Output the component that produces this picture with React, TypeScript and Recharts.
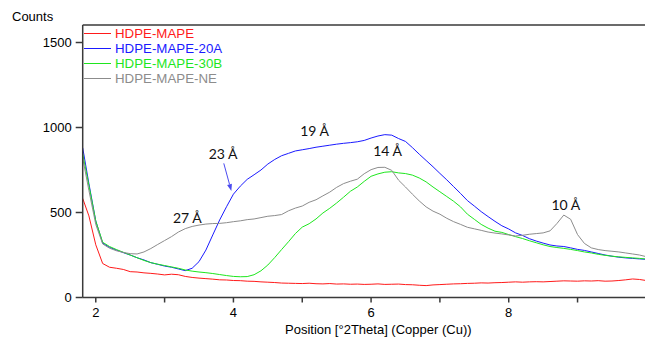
import { LineChart, Line, XAxis, YAxis, ReferenceLine, ReferenceDot } from "recharts";

// 2Theta positions shared by all four scans
const twoTheta = [
  1.81,
  1.9, 2.0, 2.1, 2.2, 2.3, 2.4, 2.5, 2.6, 2.7, 2.8, 2.9,
  3.0, 3.1, 3.2, 3.3, 3.4, 3.5, 3.6, 3.7, 3.8, 3.9,
  4.0, 4.1, 4.2, 4.3, 4.4, 4.5, 4.6, 4.7, 4.8, 4.9,
  5.0, 5.1, 5.2, 5.3, 5.4, 5.5, 5.6, 5.7, 5.8, 5.9,
  6.0, 6.1, 6.2, 6.3, 6.4, 6.5, 6.6, 6.7, 6.8, 6.9,
  7.0, 7.1, 7.2, 7.3, 7.4, 7.5, 7.6, 7.7, 7.8, 7.9,
  8.0, 8.1, 8.2, 8.3, 8.4, 8.5, 8.6, 8.7, 8.8, 8.9,
  9.0, 9.1, 9.2, 9.3, 9.4, 9.5, 9.6, 9.7, 9.8, 9.9,
  9.98,
];

const hdpeMape = [
  583,
  480, 310, 200, 178, 172, 165, 152, 150, 145, 142, 138,
  133, 137, 134, 124, 118, 114, 111, 108, 104, 103,
  100, 99, 96, 95, 92, 90, 88, 85, 84, 83,
  82, 84, 81, 80, 82, 79, 80, 78, 79, 77,
  78, 80, 77, 78, 79, 76, 75, 72, 70, 74,
  76, 78, 80, 81, 83, 84, 86, 85, 87, 88,
  90, 92, 90, 92, 93, 92, 94, 96, 98, 97,
  96, 98, 97, 99, 96, 97, 100, 104, 109, 106,
  101,
];

const hdpeMape20A = [
  881,
  670, 450, 320, 295, 279, 264, 250, 234, 221, 205, 195,
  185, 178, 168, 158, 172, 211, 279, 368, 456, 534,
  608, 655, 695, 722, 750, 785, 812, 834, 848, 862,
  869, 876, 884, 890, 896, 902, 907, 911, 916, 924,
  938, 950, 958, 955, 935, 918, 882, 843, 806, 769,
  730, 692, 652, 612, 570, 538, 505, 476, 448, 422,
  403, 380, 365, 346, 332, 320, 309, 303, 300, 292,
  283, 277, 268, 259, 250, 243, 237, 233, 230, 227,
  225,
];

const hdpeMape30B = [
  845,
  660, 450, 325, 300, 282, 266, 250, 234, 218, 205, 196,
  188, 180, 172, 162, 155, 150, 146, 141, 135, 129,
  124, 122, 123, 134, 157, 191, 235, 282, 328, 376,
  414, 434, 462, 497, 525, 556, 590, 625, 650, 683,
  713, 727, 737, 740, 733, 729, 720, 703, 680, 650,
  622, 594, 566, 533, 490, 460, 430, 408, 390, 383,
  370, 358, 347, 334, 322, 310, 300, 294, 289, 283,
  276, 268, 262, 254, 248, 243, 239, 236, 233, 230,
  227,
];

const hdpeMapeNE = [
  820,
  630, 430, 315, 290, 275, 265, 258, 256, 268, 288, 312,
  335, 358, 385, 405, 418, 426, 432, 435, 436, 440,
  446, 451, 458, 462, 470, 478, 482, 488, 510, 526,
  538, 560, 575, 598, 620, 648, 670, 684, 696, 728,
  752, 765, 766, 748, 690, 650, 608, 568, 533, 508,
  490, 466, 446, 430, 413, 404, 395, 385, 379, 374,
  368, 362, 366, 372, 376, 380, 392, 435, 485, 460,
  370, 318, 292, 282, 276, 272, 268, 262, 256, 250,
  242,
];

const seriesNames = ["HDPE-MAPE", "HDPE-MAPE-20A", "HDPE-MAPE-30B", "HDPE-MAPE-NE"];
const seriesKeys = ["mape", "mape20A", "mape30B", "mapeNE"];
const seriesColors = ["#ff1a1a", "#1a1aff", "#1ee61e", "#8c8c8c"];

const xTicks = [2, 3, 4, 5, 6, 7, 8, 9];
const yTicks = [0, 500, 1000, 1500];
const X_MIN = 1.81;
const X_MAX = 9.98;
const Y_MAX = 1603;

// d-spacing labels, placed in data coordinates
const peakLabels = [
  { text: "27 Å", x: 3.33, y: 473 },
  { text: "23 Å", x: 3.85, y: 850 },
  { text: "19 Å", x: 5.18, y: 985 },
  { text: "14 Å", x: 6.24, y: 862 },
  { text: "10 Å", x: 8.83, y: 550 },
];
const arrow23 = [{ x: 3.86, y: 789 }, { x: 3.97, y: 626 }];

const rows = twoTheta.map((x, i) => ({
  x,
  mape: hdpeMape[i],
  mape20A: hdpeMape20A[i],
  mape30B: hdpeMape30B[i],
  mapeNE: hdpeMapeNE[i],
}));

const AXIS = "#3a3a3a";
const FONT = "'Liberation Sans', Arial, sans-serif";
const tickStyle = { fontFamily: FONT, fontSize: 13, fill: "#000" };

function Arrow(p: any) {
  const { x1, y1, x2, y2 } = p;
  const ang = Math.atan2(y2 - y1, x2 - x1);
  const len = 7, w = 2.5;
  const bx = x2 - len * Math.cos(ang), by = y2 - len * Math.sin(ang);
  const px = -Math.sin(ang) * w, py = Math.cos(ang) * w;
  return (
    <g>
      <line x1={x1} y1={y1} x2={bx} y2={by} stroke="#4a4af0" strokeWidth={1} />
      <polygon points={`${x2},${y2} ${bx + px},${by + py} ${bx - px},${by - py}`} fill="#4a4af0" />
    </g>
  );
}

export default function App() {
  return (
    <div style={{ position: "absolute", left: 0, top: 0, width: 645, height: 337, background: "#fff" }}>
      <LineChart width={645} height={337} data={rows} margin={{ top: 25, right: 0, bottom: 0, left: 0 }}>
        <XAxis dataKey="x" type="number" domain={[X_MIN, X_MAX]} ticks={xTicks} allowDataOverflow
          tickFormatter={(v: number) => (v % 2 === 0 ? String(v) : "")}
          height={39.5} stroke={AXIS} strokeWidth={1.5} tickSize={5} tickMargin={5} tick={tickStyle} />
        <YAxis type="number" domain={[0, Y_MAX]} ticks={yTicks} allowDataOverflow
          width={82.7} stroke={AXIS} strokeWidth={1.5} tickSize={7} tickMargin={4} tick={tickStyle} />
        <ReferenceLine y={Y_MAX} stroke={AXIS} strokeWidth={1.5} />
        {seriesKeys.map((k, i) => (
          <Line key={k} dataKey={k} name={seriesNames[i]} type="linear" stroke={seriesColors[i]}
            strokeWidth={1} dot={false} isAnimationActive={false} />
        ))}
        <ReferenceLine segment={arrow23} shape={Arrow} />
        {peakLabels.map(l => (
          <ReferenceDot key={l.text} x={l.x} y={l.y} r={0}
            shape={(p: any) => (
              <text x={p.cx} y={p.cy} textAnchor="middle" dominantBaseline="central"
                style={{ fontFamily: "Lato, sans-serif", fontSize: 14, fill: "#111" }}>{l.text}</text>
            )} />
        ))}
      </LineChart>

      <div style={{ position: "absolute", left: 12, top: 9, fontFamily: FONT, fontSize: 13, lineHeight: "15px", color: "#000" }}>Counts</div>
      <div style={{ position: "absolute", left: 285, top: 322, fontFamily: FONT, fontSize: 13, lineHeight: "15px", color: "#000", whiteSpace: "nowrap" }}>
        Position [°2Theta] (Copper (Cu))
      </div>

      {seriesNames.map((n, i) => (
        <div key={n} style={{ position: "absolute", left: 84, top: 25.5 + i * 15.25, height: 15, display: "flex", alignItems: "center" }}>
          <div style={{ width: 27, height: 1, background: seriesColors[i] }} />
          <span style={{ marginLeft: 4, fontFamily: FONT, fontSize: 13.3, lineHeight: "15px", color: seriesColors[i], whiteSpace: "nowrap" }}>{n}</span>
        </div>
      ))}
    </div>
  );
}
